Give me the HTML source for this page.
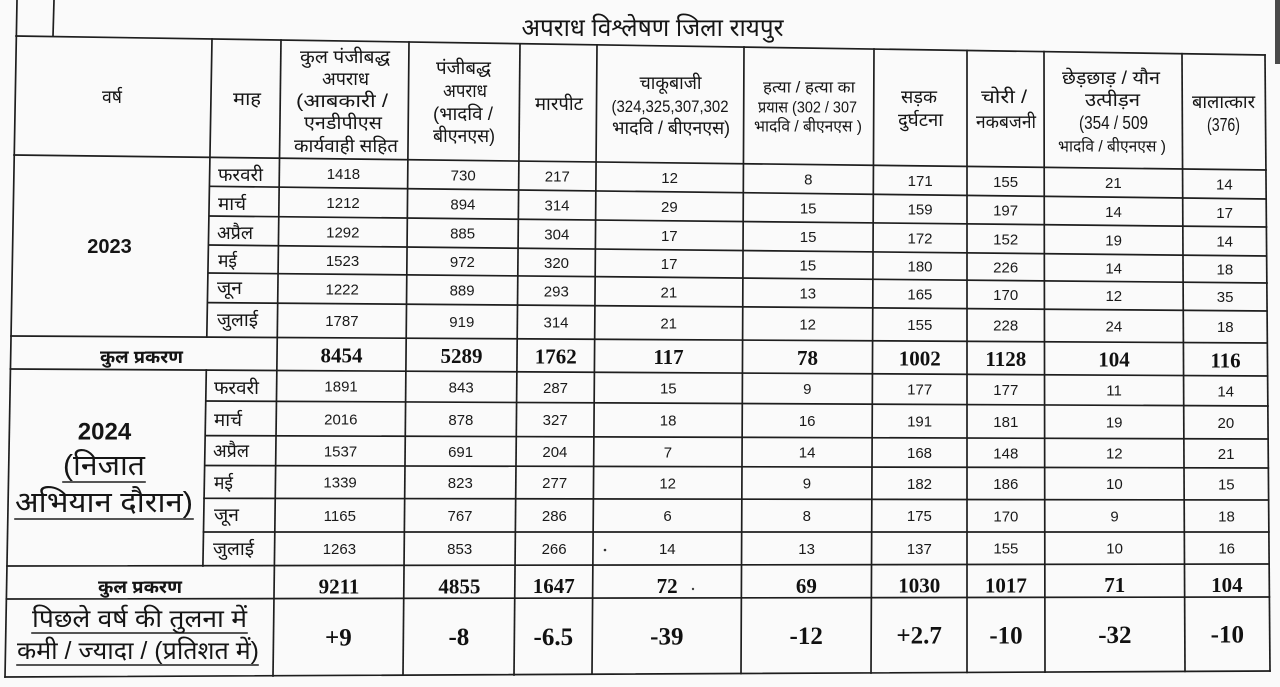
<!DOCTYPE html>
<html>
<head>
<meta charset="utf-8">
<style>
  html,body{margin:0;padding:0;background:#fafafa;}
  svg{display:block;}
  .dv{font-family:"Liberation Sans","Noto Sans Devanagari","Lohit Devanagari","FreeSans",sans-serif;fill:#151515;}
  .n{font-family:"Liberation Sans",sans-serif;font-size:15px;fill:#1a1a1a;text-anchor:middle;dominant-baseline:central;}
  .t{font-family:"Liberation Serif",serif;font-weight:bold;font-size:21px;fill:#111;text-anchor:middle;dominant-baseline:central;}
  .d{font-family:"Liberation Serif",serif;font-weight:bold;font-size:25px;fill:#111;text-anchor:middle;dominant-baseline:central;}
  .c{text-anchor:middle;dominant-baseline:central;}
  .s{text-anchor:start;dominant-baseline:central;}
</style>
</head>
<body>
<svg width="1280" height="687" viewBox="0 0 1280 687" xmlns="http://www.w3.org/2000/svg">
  <rect x="0" y="0" width="1280" height="687" fill="#fafafa"/>
  <rect x="1275" y="0" width="5" height="64" fill="#4a4a4a"/>

  <g stroke="#1e1e1e" stroke-width="1.7" fill="none" stroke-linecap="square">
    <line x1="17" y1="0" x2="5" y2="677"/>
    <line x1="54" y1="0" x2="53" y2="36"/>
    <line x1="16" y1="36" x2="1265" y2="55"/>
    <line x1="14" y1="155" x2="1266" y2="170"/>
    <line x1="210" y1="186.3" x2="1266" y2="199"/>
    <line x1="210" y1="216" x2="1266.5" y2="227"/>
    <line x1="209.5" y1="245" x2="1266.5" y2="256"/>
    <line x1="209" y1="273" x2="1267" y2="283"/>
    <line x1="208" y1="302.6" x2="1267" y2="311"/>
    <line x1="11" y1="336" x2="1267" y2="343"/>
    <line x1="10.3" y1="369" x2="1267.6" y2="376"/>
    <line x1="206" y1="401" x2="1268" y2="406"/>
    <line x1="205.5" y1="435.6" x2="1268" y2="439"/>
    <line x1="205" y1="465.5" x2="1268.3" y2="468"/>
    <line x1="204" y1="498.3" x2="1268.6" y2="500"/>
    <line x1="203.5" y1="532" x2="1268.9" y2="532"/>
    <line x1="7" y1="566" x2="1269" y2="564"/>
    <line x1="6.3" y1="599" x2="1269.4" y2="597"/>
    <line x1="5" y1="677" x2="1270" y2="671"/>
    <line x1="212" y1="39" x2="206.8" y2="337"/>
    <line x1="206.3" y1="370" x2="202.9" y2="566"/>
    <line x1="281" y1="40" x2="273" y2="676"/>
    <line x1="409" y1="42" x2="403" y2="675"/>
    <line x1="520" y1="44" x2="514" y2="675"/>
    <line x1="597" y1="45" x2="592" y2="674"/>
    <line x1="744" y1="47" x2="741" y2="673.5"/>
    <line x1="874" y1="49" x2="871" y2="673"/>
    <line x1="967" y1="50.5" x2="967" y2="672.4"/>
    <line x1="1044" y1="51.6" x2="1045" y2="672.1"/>
    <line x1="1182" y1="53.7" x2="1185" y2="671.4"/>
    <line x1="1265" y1="55" x2="1270" y2="671"/>
    <line x1="63" y1="482" x2="145" y2="482" stroke-width="1.6"/>
    <line x1="15" y1="519" x2="193" y2="519" stroke-width="1.6"/>
    <line x1="32" y1="633" x2="247" y2="633" stroke-width="1.6"/>
    <line x1="17" y1="665" x2="258" y2="665" stroke-width="1.6"/>
  </g>

  <text class="dv c" x="652.5" y="28" font-size="25" textLength="262" lengthAdjust="spacingAndGlyphs">अपराध विश्लेषण जिला रायपुर</text>

  <g class="dv" font-size="18">
    <text class="c" x="112" y="97" textLength="20" lengthAdjust="spacingAndGlyphs">वर्ष</text>
    <text class="c" x="247" y="99" textLength="28" lengthAdjust="spacingAndGlyphs">माह</text>

    <text class="c" x="345" y="57" textLength="90" lengthAdjust="spacingAndGlyphs">कुल पंजीबद्ध</text>
    <text class="c" x="345.5" y="79" textLength="47" lengthAdjust="spacingAndGlyphs">अपराध</text>
    <text class="c" x="342" y="101" textLength="92" lengthAdjust="spacingAndGlyphs">(आबकारी /</text>
    <text class="c" x="343" y="123" textLength="78" lengthAdjust="spacingAndGlyphs">एनडीपीएस</text>
    <text class="c" x="346" y="146" textLength="104" lengthAdjust="spacingAndGlyphs">कार्यवाही सहित</text>

    <text class="c" x="463.5" y="68" textLength="55" lengthAdjust="spacingAndGlyphs">पंजीबद्ध</text>
    <text class="c" x="465" y="91" textLength="44" lengthAdjust="spacingAndGlyphs">अपराध</text>
    <text class="c" x="463" y="114" textLength="60" lengthAdjust="spacingAndGlyphs">(भादवि /</text>
    <text class="c" x="464" y="136" textLength="62" lengthAdjust="spacingAndGlyphs">बीएनएस)</text>

    <text class="c" x="559" y="104" textLength="48" lengthAdjust="spacingAndGlyphs">मारपीट</text>

    <text class="c" x="670.5" y="83" textLength="62" lengthAdjust="spacingAndGlyphs">चाकूबाजी</text>
    <text class="c" x="670" y="107" font-size="16.5" textLength="117" lengthAdjust="spacingAndGlyphs">(324,325,307,302</text>
    <text class="c" x="671" y="128" textLength="118" lengthAdjust="spacingAndGlyphs">भादवि / बीएनएस)</text>

    <text class="c" x="809" y="88" font-size="16" textLength="92" lengthAdjust="spacingAndGlyphs">हत्या / हत्या का</text>
    <text class="c" x="807.5" y="108" font-size="16" textLength="99" lengthAdjust="spacingAndGlyphs">प्रयास (302 / 307</text>
    <text class="c" x="808" y="127" font-size="16" textLength="108" lengthAdjust="spacingAndGlyphs">भादवि / बीएनएस )</text>

    <text class="c" x="919" y="97" textLength="36" lengthAdjust="spacingAndGlyphs">सड़क</text>
    <text class="c" x="920.5" y="120" textLength="45" lengthAdjust="spacingAndGlyphs">दुर्घटना</text>

    <text class="c" x="1004" y="97" textLength="46" lengthAdjust="spacingAndGlyphs">चोरी /</text>
    <text class="c" x="1006" y="122" textLength="60" lengthAdjust="spacingAndGlyphs">नकबजनी</text>

    <text class="c" x="1111" y="78" textLength="98" lengthAdjust="spacingAndGlyphs">छेड़छाड़ / यौन</text>
    <text class="c" x="1112.5" y="100" textLength="55" lengthAdjust="spacingAndGlyphs">उत्पीड़न</text>
    <text class="c" x="1113.5" y="123" textLength="69" lengthAdjust="spacingAndGlyphs">(354 / 509</text>
    <text class="c" x="1112" y="147" font-size="16" textLength="108" lengthAdjust="spacingAndGlyphs">भादवि / बीएनएस )</text>

    <text class="c" x="1223.5" y="102" textLength="63" lengthAdjust="spacingAndGlyphs">बालात्कार</text>
    <text class="c" x="1223.5" y="125" textLength="33" lengthAdjust="spacingAndGlyphs">(376)</text>
  </g>

  <g class="dv" font-size="18">
    <text class="s" x="218" y="175" textLength="45" lengthAdjust="spacingAndGlyphs">फरवरी</text>
    <text class="s" x="218" y="204" textLength="28" lengthAdjust="spacingAndGlyphs">मार्च</text>
    <text class="s" x="217" y="233" textLength="36" lengthAdjust="spacingAndGlyphs">अप्रैल</text>
    <text class="s" x="218" y="261" textLength="19" lengthAdjust="spacingAndGlyphs">मई</text>
    <text class="s" x="217" y="288" textLength="25" lengthAdjust="spacingAndGlyphs">जून</text>
    <text class="s" x="217" y="320" textLength="41" lengthAdjust="spacingAndGlyphs">जुलाई</text>

    <text class="s" x="214" y="388" textLength="45" lengthAdjust="spacingAndGlyphs">फरवरी</text>
    <text class="s" x="214" y="420" textLength="28" lengthAdjust="spacingAndGlyphs">मार्च</text>
    <text class="s" x="213" y="451" textLength="36" lengthAdjust="spacingAndGlyphs">अप्रैल</text>
    <text class="s" x="214" y="483" textLength="19" lengthAdjust="spacingAndGlyphs">मई</text>
    <text class="s" x="214" y="515" textLength="25" lengthAdjust="spacingAndGlyphs">जून</text>
    <text class="s" x="213" y="549" textLength="41" lengthAdjust="spacingAndGlyphs">जुलाई</text>
  </g>

  <text x="109.5" y="247" font-family="Liberation Sans, sans-serif" font-weight="bold" font-size="20" fill="#151515" text-anchor="middle" dominant-baseline="central">2023</text>
  <text x="104.5" y="432" font-family="Liberation Sans, sans-serif" font-weight="bold" font-size="24" fill="#151515" text-anchor="middle" dominant-baseline="central">2024</text>
  <g class="dv" font-size="29">
    <text class="c" x="104" y="466" textLength="82" lengthAdjust="spacingAndGlyphs">(निजात</text>
    <text class="c" x="104" y="503" textLength="178" lengthAdjust="spacingAndGlyphs">अभियान दौरान)</text>
  </g>

  <g class="dv" font-size="18" font-weight="bold">
    <text class="c" x="141.5" y="357" textLength="83" lengthAdjust="spacingAndGlyphs">कुल प्रकरण</text>
    <text class="c" x="140" y="587" textLength="84" lengthAdjust="spacingAndGlyphs">कुल प्रकरण</text>
  </g>
  <g class="dv" font-size="25">
    <text class="c" x="139.5" y="619" textLength="215" lengthAdjust="spacingAndGlyphs">पिछले वर्ष की तुलना में</text>
    <text class="c" x="138" y="651" textLength="242" lengthAdjust="spacingAndGlyphs">कमी / ज्यादा / (प्रतिशत में)</text>
  </g>

  <g class="n">
    <text x="343.4" y="174.4">1418</text><text x="463.2" y="175.9">730</text><text x="557.3" y="177">217</text><text x="669.6" y="178.3">12</text><text x="808.3" y="180">8</text><text x="920.2" y="181.4">171</text><text x="1005.6" y="182.4">155</text><text x="1113.4" y="183.7">21</text><text x="1224.4" y="185">14</text>

    <text x="343.1" y="203.7">1212</text><text x="462.9" y="205">894</text><text x="557" y="206.1">314</text><text x="669.4" y="207.3">29</text><text x="808.2" y="208.9">15</text><text x="920.1" y="210.1">159</text><text x="1005.6" y="211.1">197</text><text x="1113.5" y="212.3">14</text><text x="1224.6" y="213.5">17</text>

    <text x="342.8" y="232.9">1292</text><text x="462.6" y="234.2">885</text><text x="556.8" y="235.1">304</text><text x="669.3" y="236.3">17</text><text x="808.1" y="237.7">15</text><text x="920" y="238.9">172</text><text x="1005.7" y="239.8">152</text><text x="1113.6" y="240.9">19</text><text x="1224.7" y="242.1">14</text>

    <text x="342.5" y="261.3">1523</text><text x="462.4" y="262.5">972</text><text x="556.5" y="263.4">320</text><text x="669.1" y="264.5">17</text><text x="807.9" y="265.9">15</text><text x="920" y="267.1">180</text><text x="1005.7" y="267.9">226</text><text x="1113.7" y="269">14</text><text x="1224.9" y="270.1">18</text>

    <text x="342.2" y="289.9">1222</text><text x="462.1" y="290.9">889</text><text x="556.3" y="291.8">293</text><text x="668.9" y="292.8">21</text><text x="807.8" y="294">13</text><text x="919.9" y="295">165</text><text x="1005.7" y="295.7">170</text><text x="1113.8" y="296.7">12</text><text x="1225.1" y="297.6">35</text>

    <text x="341.9" y="321.7">1787</text><text x="461.8" y="322.5">919</text><text x="556" y="323.2">314</text><text x="668.7" y="323.9">21</text><text x="807.7" y="324.9">12</text><text x="919.8" y="325.7">155</text><text x="1005.7" y="326.2">228</text><text x="1113.9" y="327">24</text><text x="1225.3" y="327.7">18</text>
  </g>

  <g class="t">
    <text x="341.5" y="355.3">8454</text><text x="461.5" y="356">5289</text><text x="555.8" y="356.5">1762</text><text x="668.5" y="357.2">117</text><text x="807.5" y="357.9">78</text><text x="919.8" y="358.6">1002</text><text x="1005.8" y="359">1128</text><text x="1114" y="359.7">104</text><text x="1225.5" y="360.3">116</text>
  </g>

  <g class="n">
    <text x="341.1" y="387.2">1891</text><text x="461.2" y="387.8">843</text><text x="555.5" y="388.3">287</text><text x="668.3" y="388.9">15</text><text x="807.3" y="389.6">9</text><text x="919.7" y="390.2">177</text><text x="1005.8" y="390.6">177</text><text x="1114.1" y="391.2">11</text><text x="1225.7" y="391.8">14</text>

    <text x="340.8" y="419.8">2016</text><text x="460.9" y="420.3">878</text><text x="555.2" y="420.7">327</text><text x="668.1" y="421.1">18</text><text x="807.2" y="421.7">16</text><text x="919.6" y="422.1">191</text><text x="1005.8" y="422.5">181</text><text x="1114.2" y="422.9">19</text><text x="1225.9" y="423.3">20</text>

    <text x="340.5" y="451.9">1537</text><text x="460.6" y="452.3">691</text><text x="554.9" y="452.5">204</text><text x="667.9" y="452.8">7</text><text x="807.1" y="453.2">14</text><text x="919.5" y="453.5">168</text><text x="1005.8" y="453.8">148</text><text x="1114.3" y="454.1">12</text><text x="1226.1" y="454.4">21</text>

    <text x="340.1" y="483.2">1339</text><text x="460.3" y="483.4">823</text><text x="554.7" y="483.6">277</text><text x="667.7" y="483.8">12</text><text x="806.9" y="484.1">9</text><text x="919.5" y="484.3">182</text><text x="1005.8" y="484.5">186</text><text x="1114.4" y="484.7">10</text><text x="1226.3" y="484.9">15</text>

    <text x="339.8" y="516.3">1165</text><text x="460" y="516.4">767</text><text x="554.4" y="516.4">286</text><text x="667.5" y="516.5">6</text><text x="806.8" y="516.6">8</text><text x="919.4" y="516.7">175</text><text x="1005.9" y="516.8">170</text><text x="1114.5" y="516.9">9</text><text x="1226.5" y="517">18</text>

    <text x="339.4" y="549.7">1263</text><text x="459.7" y="549.6">853</text><text x="554.1" y="549.6">266</text><text x="667.3" y="549.5">14</text><text x="806.6" y="549.4">13</text><text x="919.3" y="549.3">137</text><text x="1005.9" y="549.2">155</text><text x="1114.6" y="549.1">10</text><text x="1226.7" y="549">16</text>
  </g>

  <g class="t">
    <text x="339" y="586.5">9211</text><text x="459.4" y="586.3">4855</text><text x="553.8" y="586.2">1647</text><text x="667.1" y="586">72</text><text x="806.4" y="585.8">69</text><text x="919.2" y="585.6">1030</text><text x="1005.9" y="585.4">1017</text><text x="1114.7" y="585.2">71</text><text x="1226.9" y="585">104</text>
  </g>

  <g class="d">
    <text x="338.4" y="638">+9</text><text x="458.9" y="637.6">-8</text><text x="553.3" y="637.3">-6.5</text><text x="666.8" y="636.9">-39</text><text x="806.2" y="636.5">-12</text><text x="919.1" y="636.1">+2.7</text><text x="1006" y="635.8">-10</text><text x="1114.9" y="635.5">-32</text><text x="1227.3" y="635.1">-10</text>
  </g>

  <circle cx="605" cy="550" r="1.3" fill="#333"/>
  <circle cx="693" cy="589" r="1.2" fill="#444"/>
</svg>
</body>
</html>
